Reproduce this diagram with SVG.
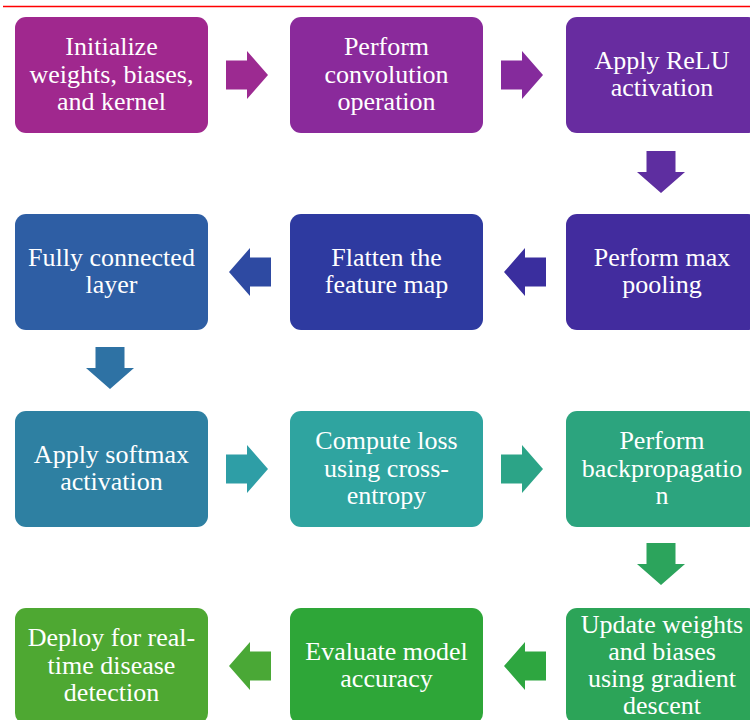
<svg xmlns="http://www.w3.org/2000/svg" width="750" height="720" viewBox="0 0 750 720">
<style>
.t{font-family:'Liberation Serif','Tinos','Times New Roman','DejaVu Serif',serif;font-size:26px;fill:#ffffff;text-anchor:middle}
</style>
<rect width="750" height="720" fill="#ffffff"/>
<line x1="3" y1="6.5" x2="750" y2="6.5" stroke="#ff0000" stroke-width="1.5"/>
<g id="connectors">
<path d="M226,60.5 H247 V51 L268,75 L247,99 V89.5 H226 Z" fill="#9C2A91"/>
<path d="M501,60.5 H522 V51 L543,75 L522,99 V89.5 H501 Z" fill="#852B9C"/>
<path d="M646.5,151 V172 H637 L661,193 L685,172 H675.5 V151 Z" fill="#5E2EA0"/>
<path d="M546,257.5 H525 V248 L504,272 L525,296 V286.5 H546 Z" fill="#3A2E9E"/>
<path d="M271,257.5 H250 V248 L229,272 L250,296 V286.5 H271 Z" fill="#2E4AA2"/>
<path d="M95.5,347 V368 H86 L110,389 L134,368 H124.5 V347 Z" fill="#2E72A4"/>
<path d="M226,454.5 H247 V445 L268,469 L247,493 V483.5 H226 Z" fill="#2E9EA6"/>
<path d="M501,454.5 H522 V445 L543,469 L522,493 V483.5 H501 Z" fill="#2CA487"/>
<path d="M646.5,543 V564 H637 L661,585 L685,564 H675.5 V543 Z" fill="#2CA45C"/>
<path d="M546,651.5 H525 V642 L504,666 L525,690 V680.5 H546 Z" fill="#2EA640"/>
<path d="M271,651.5 H250 V642 L229,666 L250,690 V680.5 H271 Z" fill="#4AA836"/>
</g>
<g id="n1"><rect x="15" y="17" width="193" height="116" rx="11" fill="#A0288E"/>
<text class="t" font-family="Liberation Serif, serif" y="55.2"><tspan x="111.5">Initialize</tspan><tspan x="111.5" dy="27.3">weights, biases,</tspan><tspan x="111.5" dy="27.3">and kernel</tspan></text></g>
<g id="n2"><rect x="290" y="17" width="193" height="116" rx="11" fill="#8A2A9B"/>
<text class="t" y="55.2"><tspan x="386.5">Perform</tspan><tspan x="386.5" dy="27.3">convolution</tspan><tspan x="386.5" dy="27.3">operation</tspan></text></g>
<g id="n3"><rect x="566" y="17" width="193" height="116" rx="11" fill="#682CA0"/>
<text class="t" y="68.85"><tspan x="662">Apply ReLU</tspan><tspan x="662" dy="27.3">activation</tspan></text></g>
<g id="n4"><rect x="566" y="214" width="193" height="116" rx="11" fill="#422C9E"/>
<text class="t" y="265.85"><tspan x="662">Perform max</tspan><tspan x="662" dy="27.3">pooling</tspan></text></g>
<g id="n5"><rect x="290" y="214" width="193" height="116" rx="11" fill="#2E3AA0"/>
<text class="t" y="265.85"><tspan x="386.5">Flatten the</tspan><tspan x="386.5" dy="27.3">feature map</tspan></text></g>
<g id="n6"><rect x="15" y="214" width="193" height="116" rx="11" fill="#2E5EA4"/>
<text class="t" y="265.85"><tspan x="111.5">Fully connected</tspan><tspan x="111.5" dy="27.3">layer</tspan></text></g>
<g id="n7"><rect x="15" y="411" width="193" height="116" rx="11" fill="#2E80A2"/>
<text class="t" y="462.85"><tspan x="111.5">Apply softmax</tspan><tspan x="111.5" dy="27.3">activation</tspan></text></g>
<g id="n8"><rect x="290" y="411" width="193" height="116" rx="11" fill="#2FA4A0"/>
<text class="t" y="449.2"><tspan x="386.5">Compute loss</tspan><tspan x="386.5" dy="27.3">using cross-</tspan><tspan x="386.5" dy="27.3">entropy</tspan></text></g>
<g id="n9"><rect x="566" y="411" width="193" height="116" rx="11" fill="#2CA47E"/>
<text class="t" y="449.2"><tspan x="662">Perform</tspan><tspan x="662" dy="27.3">backpropagatio</tspan><tspan x="662" dy="27.3">n</tspan></text></g>
<g id="n10"><rect x="566" y="608" width="193" height="116" rx="11" fill="#2CA458"/>
<text class="t" y="632.5"><tspan x="662">Update weights</tspan><tspan x="662" dy="27.3">and biases</tspan><tspan x="662" dy="27.3">using gradient</tspan><tspan x="662" dy="27.3">descent</tspan></text></g>
<g id="n11"><rect x="290" y="608" width="193" height="116" rx="11" fill="#2EA638"/>
<text class="t" y="659.85"><tspan x="386.5">Evaluate model</tspan><tspan x="386.5" dy="27.3">accuracy</tspan></text></g>
<g id="n12"><rect x="15" y="608" width="193" height="116" rx="11" fill="#4EA832"/>
<text class="t" y="646.2"><tspan x="111.5">Deploy for real-</tspan><tspan x="111.5" dy="27.3">time disease</tspan><tspan x="111.5" dy="27.3">detection</tspan></text></g>
</svg>
